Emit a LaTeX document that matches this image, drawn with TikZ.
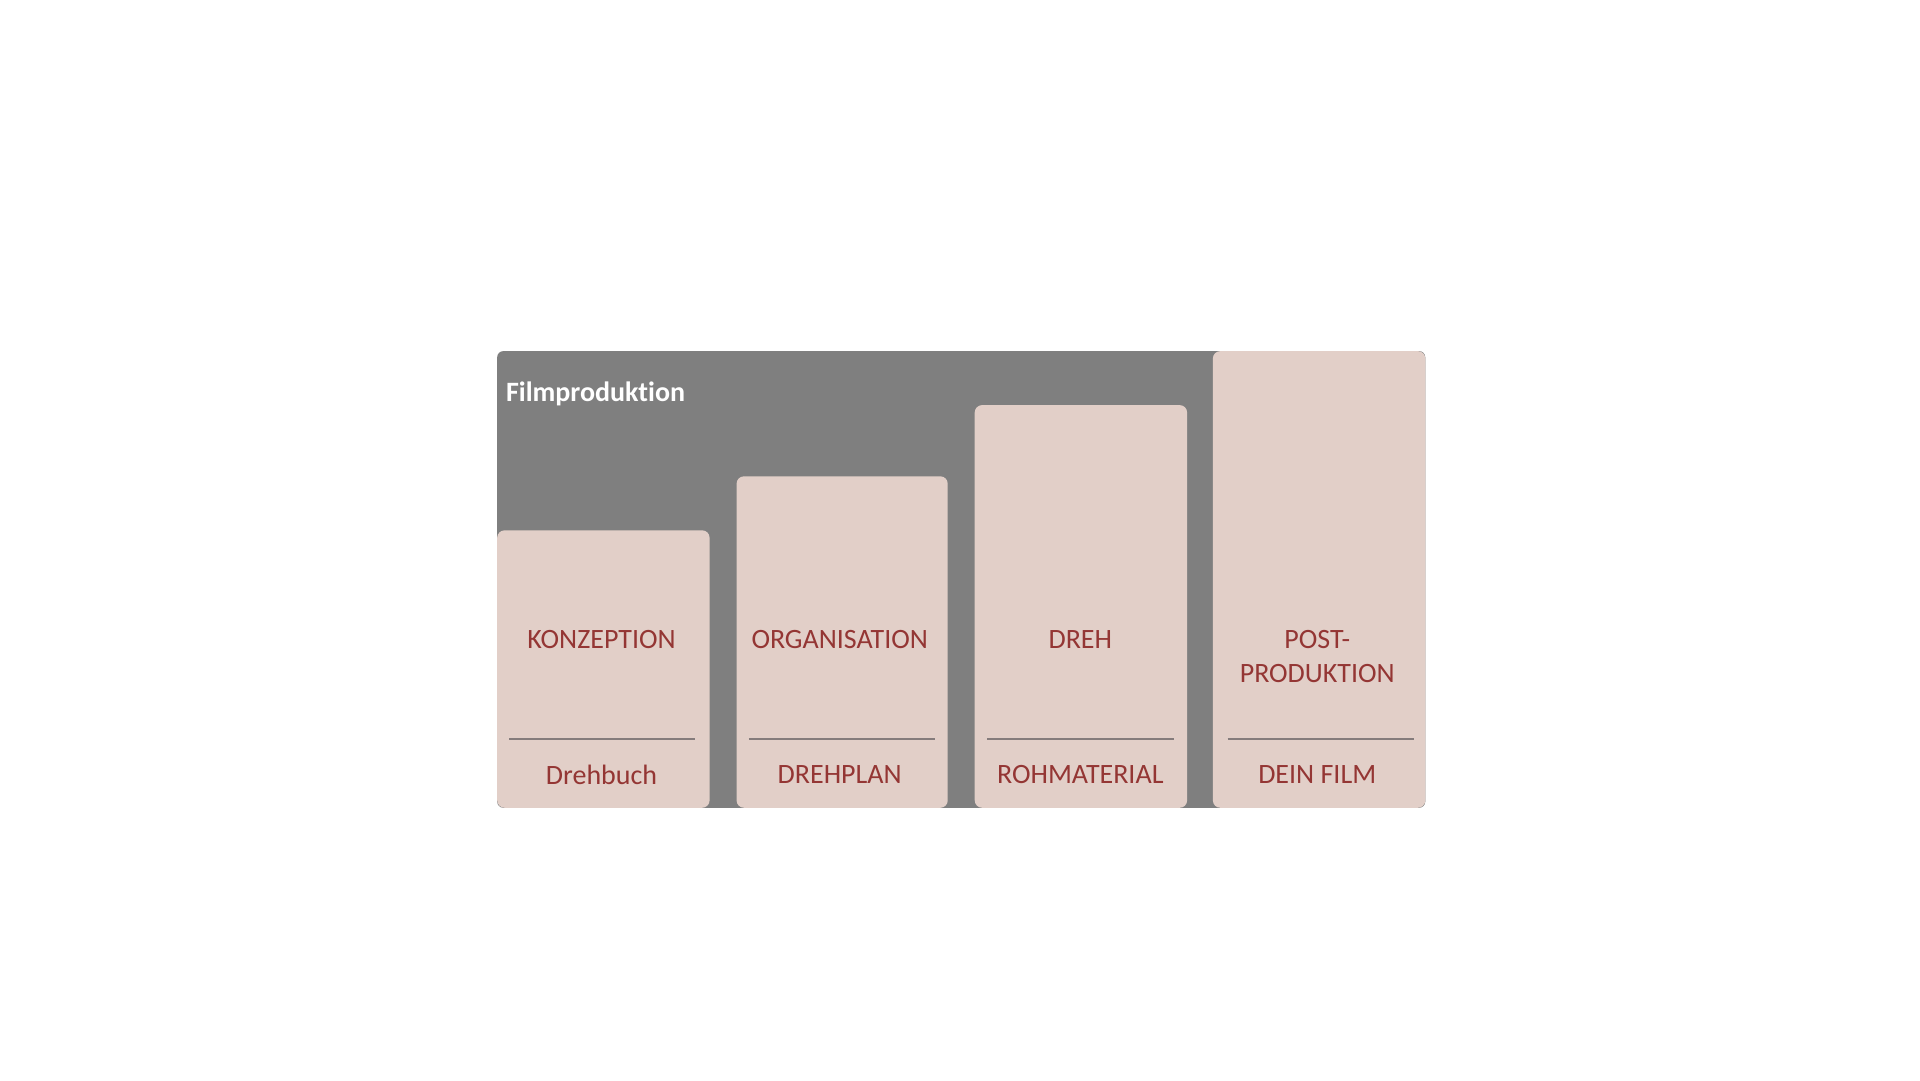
\documentclass[tikz,border=0pt]{standalone}
\usepackage{fontspec}
\setmainfont[Ligatures=NoCommon]{Carlito}
\definecolor{framegray}{HTML}{7F7F7F}
\definecolor{boxfill}{HTML}{E2CFC8}
\definecolor{txtred}{HTML}{943634}
\definecolor{sepgray}{HTML}{857C7C}
\begin{document}
\begin{tikzpicture}[x=1pt,y=-1pt,
  frame/.style={fill=framegray,draw=none,rounded corners=5pt},
  stage/.style={fill=boxfill,draw=none,rounded corners=6pt},
  stagelabel/.style={text=txtred,font=\fontsize{22.8}{28}\selectfont,align=center,inner sep=0pt},
  sepline/.style={draw=sepgray,line width=0.9pt}]
\useasboundingbox (0,0) rectangle (1564,880);
\fill[white] (0,0) rectangle (1564,880);
% frame
\path[frame] (405,286) rectangle (1161,658);
\node[anchor=west,text=white,font=\bfseries\fontsize{22.8}{26}\selectfont,inner sep=0pt] (title) at (412,321) {Filmproduktion};
% stage boxes
\path[stage] (405,432) rectangle (578,658);
\path[stage] (600,388) rectangle (772,658);
\path[stage] (794,330) rectangle (967,658);
\path[stage] (988,286) rectangle (1161,658);
% separators
\draw[sepline] (415,602) -- (566,602);
\draw[sepline] (610,602) -- (762,602);
\draw[sepline] (804,602) -- (956,602);
\draw[sepline] (1000,602) -- (1152,602);
% labels
\node[stagelabel] (k1) at (490,521) {KONZEPTION};
\node[stagelabel] (k2) at (684,521) {ORGANISATION};
\node[stagelabel] (k3) at (880,521) {DREH};
\node[stagelabel] (k4) at (1073,535) {POST-\\PRODUKTION};
\node[stagelabel] (r1) at (490,631) {Drehbuch};
\node[stagelabel] (r2) at (684,631) {DREHPLAN};
\node[stagelabel] (r3) at (880,631) {ROHMATERIAL};
\node[stagelabel] (r4) at (1073,631) {DEIN FILM};
\end{tikzpicture}
\end{document}
